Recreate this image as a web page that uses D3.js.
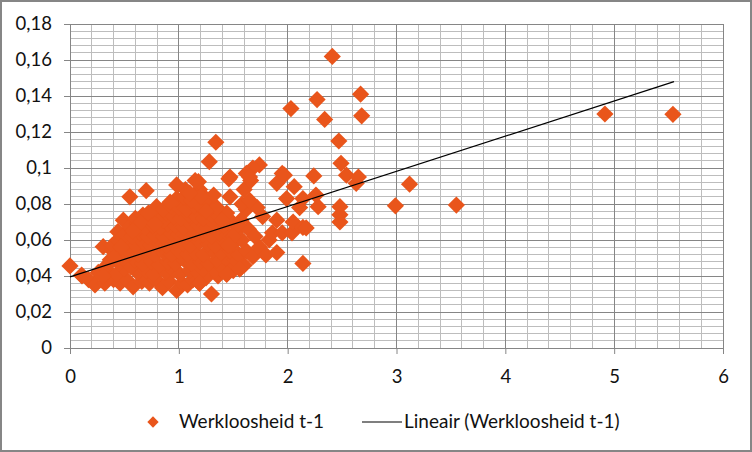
<!DOCTYPE html>
<html>
<head>
<meta charset="utf-8">
<script src="https://cdn.jsdelivr.net/npm/d3@7"></script>
<style>
  body { margin: 0; background: #fff; }
  text { font-family: Lato, "Open Sans", sans-serif; fill: #111; }
</style>
</head>
<body>
<div id="chart"></div>
<script>
// werkloosheid t-1 (x) tegen werkloosheid (y)
const punten = [
  [0.00,0.0456],[0.107,0.0405],[0.11,0.040],[0.17,0.038],[0.23,0.035],[0.32,0.036],[0.40,0.038],[0.46,0.036],
  [0.52,0.038],[0.58,0.034],[0.66,0.037],[0.73,0.036],[0.79,0.038],[0.85,0.0335],[0.91,0.037],[0.98,0.032],
  [1.03,0.036],[1.08,0.035],[1.13,0.038],[1.19,0.036],[1.25,0.039],[1.30,0.030],[1.36,0.040],[1.44,0.041],
  [1.50,0.043],[1.56,0.044],
  [0.26,0.042],[0.35,0.043],[0.43,0.041],[0.50,0.044],[0.62,0.042],[0.70,0.043],[0.77,0.041],[0.88,0.042],
  [0.95,0.043],[1.01,0.041],[1.10,0.043],[1.17,0.042],[1.22,0.044],[1.33,0.043],[1.40,0.045],[1.48,0.047],[1.60,0.046],
  [0.37,0.049],[0.45,0.047],[0.52,0.048],[0.56,0.045],[0.60,0.049],[0.67,0.047],[0.75,0.048],[0.82,0.046],
  [0.90,0.048],[0.97,0.047],[1.05,0.049],[1.12,0.047],[1.20,0.048],[1.27,0.047],[1.35,0.049],[1.43,0.050],[1.52,0.049],
  [0.305,0.0563],[0.39,0.054],[0.48,0.052],[0.55,0.053],[0.63,0.052],[0.70,0.054],[0.78,0.052],[0.86,0.053],
  [0.93,0.052],[1.00,0.054],[1.08,0.052],[1.15,0.053],[1.23,0.052],[1.31,0.054],[1.39,0.053],[1.47,0.054],
  [1.55,0.052],[1.62,0.054],[1.68,0.0507],[1.74,0.056],[1.80,0.0517],[1.90,0.053],
  [0.39,0.057],[0.44,0.060],[0.52,0.058],[0.60,0.057],[0.67,0.059],[0.74,0.057],[0.82,0.058],[0.89,0.057],
  [0.96,0.059],[1.04,0.058],[1.11,0.057],[1.19,0.059],[1.27,0.058],[1.34,0.057],[1.42,0.059],[1.50,0.058],
  [1.58,0.060],[1.83,0.060],
  [0.44,0.0646],[0.50,0.063],[0.57,0.062],[0.64,0.064],[0.71,0.062],[0.78,0.063],[0.86,0.062],[0.93,0.064],
  [1.00,0.063],[1.07,0.062],[1.15,0.064],[1.22,0.063],[1.30,0.062],[1.37,0.064],[1.45,0.063],[1.53,0.065],
  [1.64,0.066],[1.70,0.062],[1.86,0.064],[1.95,0.064],[2.04,0.064],
  [0.49,0.071],[0.55,0.0674],[0.62,0.069],[0.69,0.067],[0.76,0.068],[0.83,0.067],[0.90,0.069],[0.97,0.068],
  [1.04,0.067],[1.11,0.069],[1.18,0.068],[1.26,0.067],[1.33,0.069],[1.41,0.068],[1.49,0.070],[1.57,0.071],
  [1.77,0.073],[2.05,0.070],[2.14,0.067],[2.17,0.0667],
  [0.60,0.072],[0.67,0.0739],[0.74,0.072],[0.86,0.071],[0.81,0.073],[0.88,0.075],[0.95,0.073],[1.02,0.072],
  [1.09,0.074],[1.16,0.073],[1.23,0.072],[1.30,0.074],[1.37,0.073],[1.44,0.075],[1.62,0.077],[1.90,0.071],
  [0.795,0.0785],[0.86,0.077],[0.93,0.079],[1.00,0.078],[1.07,0.077],[1.14,0.079],[1.21,0.078],[1.28,0.080],
  [1.35,0.078],[1.47,0.084],[1.58,0.080],[1.72,0.078],[1.65,0.082],[2.11,0.078],[1.99,0.083],
  [0.98,0.083],[1.05,0.084],[1.12,0.082],[1.19,0.088],[1.25,0.083],[1.32,0.085],[1.60,0.088],[1.06,0.088],
  [0.55,0.084],[0.70,0.0874],[0.98,0.0906],[1.18,0.0924],[1.15,0.093],
  [1.74,0.1017],[1.68,0.100],[1.62,0.097],[1.66,0.093],[1.65,0.095],[1.47,0.095],[1.46,0.094],[1.28,0.1035],
  [1.34,0.1143],[1.95,0.097],[1.90,0.0915],[1.97,0.096],[2.24,0.0956],[2.06,0.0896],[2.14,0.083],[2.26,0.085],
  [2.28,0.0785],[2.48,0.0785],[2.48,0.074],[2.48,0.070],[2.63,0.0915],[2.54,0.096],[2.65,0.095],[2.49,0.1026],
  [2.47,0.115],[2.41,0.162],[2.03,0.133],[2.27,0.138],[2.34,0.127],[2.67,0.141],[2.68,0.129],
  [3.12,0.091],[2.99,0.079],[3.55,0.0794],[4.915,0.130],[5.54,0.1298],
  [2.14,0.047],[1.56,0.044],[1.19,0.036],[1.44,0.041],
  [0.40,0.050],[0.47,0.056],[0.58,0.065],[0.65,0.070],[0.72,0.075],[0.78,0.069],[1.25,0.076],[1.40,0.071],
  [1.54,0.068],[1.50,0.062],[1.46,0.057],[0.34,0.046],[0.30,0.040],[1.20,0.084],[1.10,0.086],[0.92,0.081]
];

// lineaire trendlijn (begin- en eindpunt)
const trendX = [0, 5.55];
const trendY = [0.0395, 0.148];

const xTicks = [0, 1, 2, 3, 4, 5, 6];
const xTickLabels = ["0", "1", "2", "3", "4", "5", "6"];
const yTicks = [0, 0.02, 0.04, 0.06, 0.08, 0.1, 0.12, 0.14, 0.16, 0.18];
const yTickLabels = ["0", "0,02", "0,04", "0,06", "0,08", "0,1", "0,12", "0,14", "0,16", "0,18"];

const reeksNaam = "Werkloosheid t-1";
const trendNaam = "Lineair (Werkloosheid t-1)";

const width = 752, height = 452;
const plot = {left: 70, right: 723, top: 24, bottom: 348};
const oranje = "#e9551b";
const majorKleur = "#868686", minorKleur = "#bdbdbd";

const svg = d3.select("#chart")
    .append("svg")
    .attr("width", width)
    .attr("height", height);

svg.append("rect")
    .attr("x", 1).attr("y", 1)
    .attr("width", width - 2).attr("height", height - 2)
    .attr("fill", "#fff")
    .attr("stroke", majorKleur)
    .attr("stroke-width", 2);

const x = d3.scaleLinear().domain([0, 6]).range([plot.left, plot.right]);
const y = d3.scaleLinear().domain([0, 0.18]).range([plot.bottom, plot.top]);

// minor gridlines
const grid = svg.append("g").attr("shape-rendering", "crispEdges");
grid.selectAll(".vmin")
    .data(d3.range(0, 31).map(i => i * 0.2))
    .join("line")
    .attr("x1", d => x(d)).attr("x2", d => x(d))
    .attr("y1", plot.top).attr("y2", plot.bottom)
    .attr("stroke", minorKleur);
grid.selectAll(".hmin")
    .data(d3.range(0, 46).map(i => i * 0.004))
    .join("line")
    .attr("y1", d => y(d)).attr("y2", d => y(d))
    .attr("x1", plot.left).attr("x2", plot.right)
    .attr("stroke", minorKleur);

// major gridlines
grid.selectAll(".vmaj")
    .data(xTicks)
    .join("line")
    .attr("x1", d => x(d)).attr("x2", d => x(d))
    .attr("y1", plot.top).attr("y2", plot.bottom)
    .attr("stroke", majorKleur);
grid.selectAll(".hmaj")
    .data(yTicks)
    .join("line")
    .attr("y1", d => y(d)).attr("y2", d => y(d))
    .attr("x1", plot.left).attr("x2", plot.right)
    .attr("stroke", majorKleur);

// axes
const xAxis = svg.append("g")
    .attr("transform", `translate(0, ${plot.bottom})`)
    .call(d3.axisBottom(x).tickValues(xTicks).tickFormat((d, i) => xTickLabels[i]).tickSizeInner(6).tickSizeOuter(0).tickPadding(16));
const yAxis = svg.append("g")
    .attr("transform", `translate(${plot.left}, 0)`)
    .call(d3.axisLeft(y).tickValues(yTicks).tickFormat((d, i) => yTickLabels[i]).tickSizeInner(6).tickSizeOuter(0).tickPadding(12));

[xAxis, yAxis].forEach(a => {
    a.select(".domain").attr("stroke", majorKleur);
    a.selectAll(".tick line").attr("stroke", majorKleur);
    a.selectAll(".tick text")
        .attr("font-family", "Lato, sans-serif")
        .attr("font-size", 18.5)
        .attr("fill", "#111");
});

// markers
const diamant = d3.symbol().type(d3.symbolSquare).size(148);
svg.append("g")
    .selectAll("path")
    .data(punten)
    .join("path")
    .attr("d", diamant)
    .attr("transform", d => `translate(${x(d[0])}, ${y(d[1])}) rotate(45)`)
    .attr("fill", oranje);

// trendline
svg.append("path")
    .datum(d3.zip(trendX, trendY))
    .attr("fill", "none")
    .attr("stroke", "#000")
    .attr("stroke-width", 1.2)
    .attr("d", d3.line().x(d => x(d[0])).y(d => y(d[1])));

// legend
const legend = svg.append("g");
legend.append("path")
    .attr("d", d3.symbol().type(d3.symbolSquare).size(64))
    .attr("transform", "translate(153, 422) rotate(45)")
    .attr("fill", oranje);
legend.append("text")
    .attr("x", 179).attr("y", 428)
    .attr("font-size", 19)
    .text(reeksNaam);
legend.append("line")
    .attr("x1", 362).attr("x2", 402)
    .attr("y1", 422).attr("y2", 422)
    .attr("stroke", "#000").attr("stroke-width", 1.2);
legend.append("text")
    .attr("x", 404).attr("y", 428)
    .attr("font-size", 19)
    .text(trendNaam);
</script>
</body>
</html>
